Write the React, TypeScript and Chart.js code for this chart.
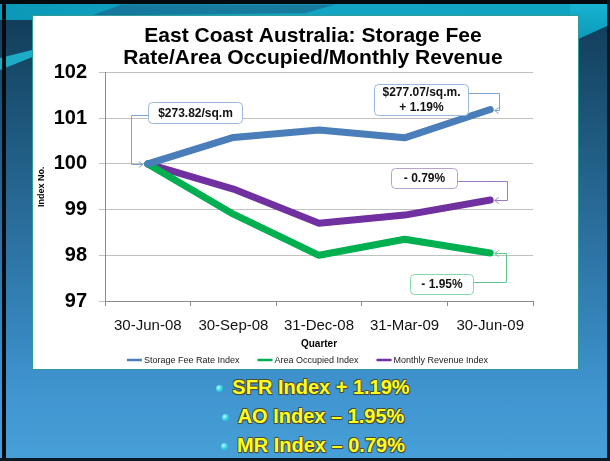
import React, { useEffect, useRef } from "react";
import { Chart, registerables } from "chart.js";

Chart.register(...registerables);

const FONT = "'Liberation Sans', Arial, Helvetica, sans-serif";

const quarters = ["30-Jun-08", "30-Sep-08", "31-Dec-08", "31-Mar-09", "30-Jun-09"];
const storageFeeRate = [100, 100.58, 100.74, 100.57, 101.19];
const areaOccupied = [100, 98.9, 98.0, 98.35, 98.05];
const monthlyRevenue = [100, 99.45, 98.7, 98.88, 99.21];
const seriesNames = ["Storage Fee Rate Index", "Area Occupied Index", "Monthly Revenue Index"];
const seriesColors = ["#4A7EBB", "#00B050", "#7030A0"];
const titleLines = ["East Coast Australia: Storage Fee", "Rate/Area Occupied/Monthly Revenue"];
const yMin = 97;
const yMax = 102;

// callout texts: which series / point they refer to
const calloutSeries = [0, 0, 2, 1];
const calloutIndex = [0, 4, 4, 4];
const calloutTexts = [["$273.82/sq.m"], ["$277.07/sq.m.", "+ 1.19%"], ["- 0.79%"], ["- 1.95%"]];

const bullets = ["SFR Index + 1.19%", "AO Index \u2013 1.95%", "MR Index \u2013 0.79%"];

// layout of callouts relative to their point (styles / positions)
const calloutLayout = [
  { dx: 0, dy: -63, w: 94, h: 21, side: "left", ay: 13, elbow: -17, tip: -5, border: "#9BB9DD", line: "#7FA3D1" },
  { dx: -116.5, dy: -27, w: 94, h: 31, side: "right", ay: 9, elbow: 8.5, tip: 4.5, border: "#9BB9DD", line: "#7FA3D1" },
  { dx: -99.5, dy: -32.5, w: 66, h: 20, side: "right", ay: 13, elbow: 16.5, tip: 4.5, border: "#B8A2D2", line: "#9C7CC2" },
  { dx: -80.5, dy: 20, w: 63, h: 20, side: "right", ay: 8, elbow: 15.5, tip: 4.5, border: "#86D7AA", line: "#5CC68C" },
];

const allSeries = [storageFeeRate, areaOccupied, monthlyRevenue];

const titlePlugin = {
  id: "slideTitle",
  afterDraw(chart: any) {
    const ctx = chart.ctx as CanvasRenderingContext2D;
    ctx.save();
    ctx.font = `bold 21px ${FONT}`;
    ctx.fillStyle = "#000";
    ctx.textAlign = "center";
    ctx.textBaseline = "middle";
    const cx = chart.width / 2 + 7.5;
    titleLines.forEach((t, k) => ctx.fillText(t, cx, 20.5 + k * 22));
    ctx.restore();
  },
};

const calloutPlugin = {
  id: "callouts",
  afterDraw(chart: any) {
    const ctx = chart.ctx as CanvasRenderingContext2D;
    const xs = chart.scales.x;
    const ys = chart.scales.y;
    ctx.save();
    calloutTexts.forEach((lines, i) => {
      const L = calloutLayout[i];
      const idx = calloutIndex[i];
      const val = allSeries[calloutSeries[i]][idx];
      const px = xs.getPixelForValue(idx);
      const py = Math.round(ys.getPixelForValue(val)) + 0.5;
      const bx = Math.round(px + L.dx) + 0.5;
      const by = Math.round(py + L.dy) + 0.5;
      const sx = L.side === "left" ? bx : bx + L.w;
      const sy = by + L.ay;
      const ex = Math.round(px + L.elbow) + 0.5;
      const tx = px + L.tip;
      ctx.strokeStyle = L.line;
      ctx.lineWidth = 1;
      ctx.beginPath();
      ctx.moveTo(sx, sy);
      ctx.lineTo(ex, sy);
      ctx.lineTo(ex, py);
      ctx.lineTo(tx, py);
      ctx.stroke();
      const dir = tx > ex ? 1 : -1;
      ctx.beginPath();
      ctx.moveTo(tx - dir * 4, py - 3);
      ctx.lineTo(tx, py);
      ctx.lineTo(tx - dir * 4, py + 3);
      ctx.stroke();
      ctx.beginPath();
      (ctx as any).roundRect(bx, by, L.w, L.h, 4);
      ctx.fillStyle = "#FFFFFF";
      ctx.fill();
      ctx.strokeStyle = L.border;
      ctx.stroke();
      ctx.fillStyle = "#111";
      ctx.font = `bold 12px ${FONT}`;
      ctx.textAlign = "center";
      ctx.textBaseline = "middle";
      const cx = bx + L.w / 2;
      const cy = by + L.h / 2;
      const lh = 15;
      lines.forEach((t, k) => {
        ctx.fillText(t, cx, cy + (k - (lines.length - 1) / 2) * lh + 0.5);
      });
    });
    ctx.restore();
  },
};

const legendPlugin = {
  id: "lineLegend",
  afterDraw(chart: any) {
    const ctx = chart.ctx as CanvasRenderingContext2D;
    ctx.save();
    ctx.font = `9px ${FONT}`;
    const items = chart.data.datasets.map((ds: any) => ({
      label: ds.label as string,
      color: ds.borderColor as string,
      w: ctx.measureText(ds.label).width,
    }));
    const sw = 15;
    const gap = 2;
    const spacing = 18;
    const total = items.reduce((s: number, it: any) => s + sw + gap + it.w, 0) + spacing * (items.length - 1);
    let x = chart.width / 2 + 2 - total / 2;
    const y = chart.height - 9;
    ctx.textBaseline = "middle";
    ctx.textAlign = "left";
    items.forEach((it: any) => {
      ctx.strokeStyle = it.color;
      ctx.lineWidth = 2.5;
      ctx.beginPath();
      ctx.moveTo(x, y);
      ctx.lineTo(x + sw, y);
      ctx.stroke();
      ctx.fillStyle = "#222";
      ctx.fillText(it.label, x + sw + gap, y + 0.5);
      x += sw + gap + it.w + spacing;
    });
    ctx.restore();
  },
};

function ChartBox() {
  const ref = useRef<HTMLCanvasElement>(null);
  useEffect(() => {
    Chart.defaults.font.family = FONT;
    const datasets = allSeries.map((d, i) => ({
      label: seriesNames[i],
      data: d,
      borderColor: seriesColors[i],
      backgroundColor: seriesColors[i],
      borderWidth: 7,
      pointRadius: 0,
      pointHoverRadius: 0,
      borderCapStyle: "round" as const,
      borderJoinStyle: "round" as const,
      tension: 0,
      fill: false,
    }));
    const chart = new Chart(ref.current!, {
      type: "line",
      data: { labels: quarters, datasets },
      options: {
        responsive: false,
        animation: false,
        events: [],
        layout: { padding: { left: 0, right: 45, top: 56.5, bottom: 19 } },
        plugins: {
          title: { display: false },
          legend: { display: false },
          tooltip: { enabled: false },
        },
        scales: {
          x: {
            offset: true,
            afterFit: (scale: any) => {
              scale.height = 49;
            },
            grid: { display: true, drawOnChartArea: false, offset: true, tickLength: 5, color: "#8C8C8C" },
            border: { color: "#8C8C8C" },
            ticks: { color: "#111", font: { size: 15, family: FONT }, padding: 11, maxRotation: 0 },
            title: {
              display: true,
              text: "Quarter",
              color: "#000",
              font: { size: 10, weight: "bold", family: FONT },
              padding: { top: 0, bottom: 0 },
            },
          },
          y: {
            min: yMin,
            max: yMax,
            afterFit: (scale: any) => {
              scale.width = 72;
            },
            ticks: { stepSize: 1, color: "#000", font: { size: 20, weight: "bold", family: FONT }, padding: 12 },
            grid: { color: "#C0C0C0", tickLength: 6 },
            border: { color: "#8C8C8C" },
            title: {
              display: true,
              text: "Index No.",
              color: "#000",
              font: { size: 9, weight: "bold", family: FONT },
              padding: { top: 3.6, bottom: 4 },
            },
          },
        },
      },
      plugins: [titlePlugin, calloutPlugin, legendPlugin],
    });
    return () => chart.destroy();
  }, []);
  return <canvas ref={ref} width={545} height={353} style={{ display: "block", width: 545, height: 353 }} />;
}

export default function App() {
  const bulletTops = [375, 404, 433];
  return (
    <div
      style={{
        position: "absolute",
        left: 0,
        top: 0,
        width: 610,
        height: 461,
        overflow: "hidden",
        background:
          "linear-gradient(180deg, #0f3856 0%, #154462 10%, #1f5a80 30%, #2b6f9e 50%, #3584bb 70%, #4095cf 85%, #47a0d8 100%)",
      }}
    >
      <div style={{ position: "absolute", left: 0, top: 0, width: 610, height: 20, background: "linear-gradient(90deg, #0b98b8 0%, #13a6c4 40%, #0fa3c2 100%)" }} />
      <div
        style={{
          position: "absolute",
          left: 0,
          top: 0,
          width: 610,
          height: 22,
          background: "#1a5f86",
          clipPath: "polygon(20% 20%, 55% 20%, 50% 60%, 15% 70%)",
          opacity: 0.6,
        }}
      />
      <div
        style={{
          position: "absolute",
          left: 570,
          top: 0,
          width: 40,
          height: 45,
          background: "linear-gradient(180deg, #19b6d3, #0a95b8)",
          clipPath: "polygon(0 0, 100% 0, 100% 55%, 0 95%)",
        }}
      />
      <div
        style={{
          position: "absolute",
          left: 0,
          top: 40,
          width: 40,
          height: 40,
          background: "#1fc6df",
          clipPath: "polygon(0 45%, 100% 20%, 100% 35%, 0 75%)",
          opacity: 0.8,
        }}
      />
      <div style={{ position: "absolute", left: 0, top: 0, width: 610, height: 4, background: "#050a0e" }} />
      <div style={{ position: "absolute", left: 2, top: 0, width: 4, height: 461, background: "#050a0e" }} />
      <div style={{ position: "absolute", right: 0, top: 0, width: 3, height: 461, background: "#0a1a24" }} />
      <div style={{ position: "absolute", left: 0, bottom: 0, width: 610, height: 3, background: "#0a1a24" }} />
      <div
        style={{
          position: "absolute",
          left: 33,
          top: 16,
          width: 545,
          height: 353,
          background: "#fff",
          outline: "1px solid #2f9c9a",
        }}
      >
        <ChartBox />
      </div>
      {bullets.map((b, i) => (
        <div
          key={i}
          style={{
            position: "absolute",
            left: 0,
            top: bulletTops[i],
            width: 642,
            textAlign: "center",
            font: `bold 20px ${FONT}`,
            lineHeight: "24px",
            color: "#FFFF1A",
            textShadow:
              "-0.6px -0.6px 0 #4a4a3a, 0.6px -0.6px 0 #4a4a3a, -0.6px 0.6px 0 #4a4a3a, 0.6px 0.6px 0 #4a4a3a, 1px 1px 1px rgba(0,0,0,0.4)",
            whiteSpace: "nowrap",
          }}
        >
          <span style={{ position: "relative" }}>
            <span
              style={{
                position: "absolute",
                right: "100%",
                marginRight: 9,
                top: 9,
                width: 7,
                height: 7,
                borderRadius: "50%",
                background: "radial-gradient(circle at 35% 35%, #b8f6ff 0%, #3fd6ea 45%, #12a9c6 100%)",
              }}
            />
            {b}
          </span>
        </div>
      ))}
    </div>
  );
}
